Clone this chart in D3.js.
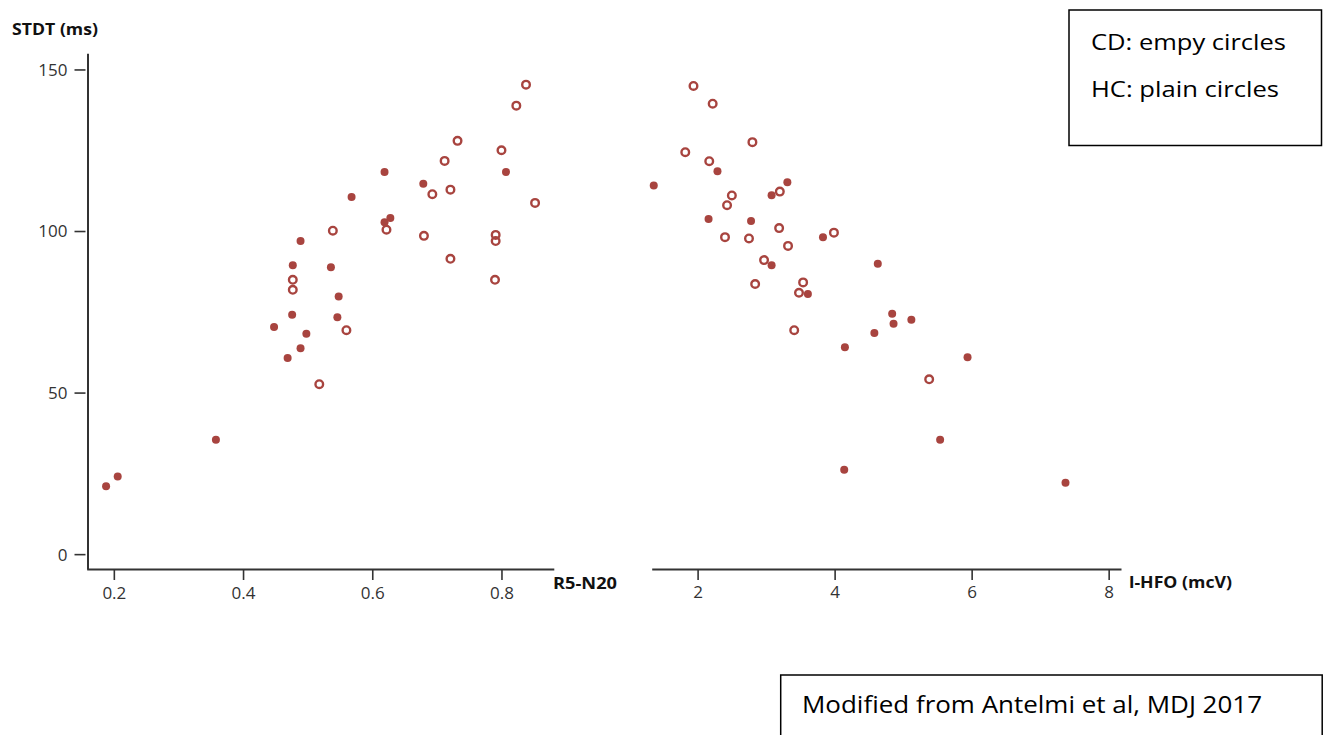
<!DOCTYPE html>
<html>
<head>
<meta charset="utf-8">
<script src="https://cdn.jsdelivr.net/npm/d3@7"></script>
<style>
  html, body { margin: 0; padding: 0; background: #fff; }
  svg { display: block; }
  text { font-family: "Open Sans", "DejaVu Sans", sans-serif; }
</style>
</head>
<body>
<svg id="chart" width="1327" height="735"></svg>
<script>
// ---- Data ----
// Left panel: R5-N20 vs STDT
const leftCDx = [0.838, 0.823, 0.732, 0.800, 0.712, 0.693, 0.721, 0.852, 0.622, 0.539, 0.680, 0.791, 0.791, 0.721, 0.477, 0.790, 0.477, 0.560, 0.518];
const leftCDy = [145.3, 138.8, 127.9, 125.0, 121.7, 111.4, 112.8, 108.7, 100.4, 100.1, 98.5, 98.8, 96.9, 91.4, 84.9, 84.9, 81.8, 69.3, 52.6];
const leftHCx = [0.619, 0.807, 0.679, 0.568, 0.628, 0.619, 0.489, 0.477, 0.536, 0.548, 0.476, 0.546, 0.448, 0.498, 0.489, 0.469, 0.358, 0.206, 0.188];
const leftHCy = [118.3, 118.3, 114.6, 110.5, 104.0, 102.7, 96.9, 89.4, 88.8, 79.7, 74.1, 73.3, 70.3, 68.2, 63.7, 60.7, 35.4, 24.0, 21.0];
// Right panel: l-HFO vs STDT
const rightCDx = [1.94, 2.22, 2.80, 1.82, 2.17, 3.20, 2.50, 2.43, 3.19, 2.40, 2.75, 3.99, 3.32, 2.97, 3.54, 2.84, 3.48, 3.41, 5.38];
const rightCDy = [144.9, 139.4, 127.5, 124.4, 121.6, 112.2, 111.0, 108.0, 100.9, 98.1, 97.7, 99.5, 95.4, 91.0, 84.1, 83.6, 80.9, 69.3, 54.1];
const rightHCx = [2.29, 1.36, 3.31, 3.08, 2.16, 2.78, 3.83, 3.08, 4.63, 3.61, 4.84, 4.86, 5.12, 4.58, 4.15, 5.94, 5.54, 4.14, 7.37];
const rightHCy = [118.5, 114.1, 115.1, 111.1, 103.7, 103.1, 98.1, 89.4, 89.9, 80.5, 74.4, 71.3, 72.5, 68.4, 64.0, 60.9, 35.4, 26.1, 22.1];

const yTicks = [0, 50, 100, 150];
const leftXTicks = [0.2, 0.4, 0.6, 0.8];
const rightXTicks = [2, 4, 6, 8];

const yTitle = "STDT (ms)";
const leftXTitle = "R5-N20";
const rightXTitle = "l-HFO (mcV)";
const legendLines = ["CD: empy circles", "HC: plain circles"];
const sourceNote = "Modified from Antelmi et al, MDJ 2017";

// ---- Drawing ----
const svg = d3.select("#chart");
const dotColor = "#a8443f";
const axisColor = "#333";

const y = d3.scaleLinear().domain([-4.6, 155]).range([569, 53.3]);
const xL = d3.scaleLinear().domain([0.158, 0.881]).range([86.7, 553.8]);
const xR = d3.scaleLinear().domain([1.33, 8.18]).range([651.7, 1121]);

function styleAxis(g) {
  g.select(".domain").attr("stroke", axisColor).attr("stroke-width", 2);
  g.selectAll(".tick line").attr("stroke", axisColor).attr("stroke-width", 1.6);
  g.selectAll(".tick text").attr("fill", "#333").style("font-size", "17px")
    .style("font-family", "'Open Sans', sans-serif");
}

// Y axis (left)
const gy = svg.append("g").attr("transform", "translate(87.5,0)")
  .call(d3.axisLeft(y).tickValues(yTicks).tickSize(6).tickSizeOuter(0).tickFormat(d3.format("d")));
styleAxis(gy);
gy.selectAll(".tick line").attr("x1", -2).attr("x2", -13);
gy.selectAll(".tick text").attr("x", -20).attr("dy", "0.35em");

// Left X axis
const gxL = svg.append("g").attr("transform", "translate(0,569)")
  .call(d3.axisBottom(xL).tickValues(leftXTicks).tickSize(11).tickSizeOuter(0).tickFormat(d3.format(".1f")));
styleAxis(gxL);
gxL.selectAll(".tick text").attr("y", 30).attr("dy", 0);

// Right X axis
const gxR = svg.append("g").attr("transform", "translate(0,569)")
  .call(d3.axisBottom(xR).tickValues(rightXTicks).tickSize(11).tickSizeOuter(0).tickFormat(d3.format("d")));
styleAxis(gxR);
gxR.selectAll(".tick text").attr("y", 29).attr("dy", 0);

// Axis titles
svg.append("text").attr("x", 12).attr("y", 35).text(yTitle)
  .attr("font-weight", "bold").style("font-size", "16px").attr("fill", "#111")
  .attr("textLength", 86).attr("lengthAdjust", "spacingAndGlyphs");
svg.append("text").attr("x", 553).attr("y", 589).text(leftXTitle)
  .attr("font-weight", "bold").style("font-size", "16.5px").attr("fill", "#111")
  .attr("textLength", 64).attr("lengthAdjust", "spacingAndGlyphs");
svg.append("text").attr("x", 1129).attr("y", 588).text(rightXTitle)
  .attr("font-weight", "bold").style("font-size", "16.5px").attr("fill", "#111")
  .attr("textLength", 103).attr("lengthAdjust", "spacingAndGlyphs");

// Points
function drawPanel(x, cdx, cdy, hcx, hcy) {
  const cd = cdx.map((v, i) => [v, cdy[i]]);
  const hc = hcx.map((v, i) => [v, hcy[i]]);
  svg.append("g").selectAll("circle").data(hc).join("circle")
    .attr("cx", d => x(d[0])).attr("cy", d => y(d[1])).attr("r", 4)
    .attr("fill", dotColor);
  svg.append("g").selectAll("circle").data(cd).join("circle")
    .attr("cx", d => x(d[0])).attr("cy", d => y(d[1])).attr("r", 3.8)
    .attr("fill", "none").attr("stroke", dotColor).attr("stroke-width", 2.4);
}
drawPanel(xL, leftCDx, leftCDy, leftHCx, leftHCy);
drawPanel(xR, rightCDx, rightCDy, rightHCx, rightHCy);

// Legend box
svg.append("rect").attr("x", 1069).attr("y", 10).attr("width", 252.5).attr("height", 135.5)
  .attr("fill", "#fff").attr("stroke", "#000").attr("stroke-width", 1.5);
const legendWidths = [195, 188];
legendLines.forEach((t, i) => {
  svg.append("text").attr("x", 1091).attr("y", 50 + i * 46.7).text(t)
    .style("font-size", "22px").attr("fill", "#000")
    .attr("textLength", legendWidths[i]).attr("lengthAdjust", "spacingAndGlyphs");
});

// Source note box
svg.append("rect").attr("x", 780.7).attr("y", 675).attr("width", 541.5).attr("height", 90)
  .attr("fill", "#fff").attr("stroke", "#000").attr("stroke-width", 1.5);
svg.append("text").attr("x", 802).attr("y", 713).text(sourceNote)
  .style("font-size", "23px").attr("fill", "#000")
  .attr("textLength", 460).attr("lengthAdjust", "spacingAndGlyphs");
</script>
</body>
</html>
